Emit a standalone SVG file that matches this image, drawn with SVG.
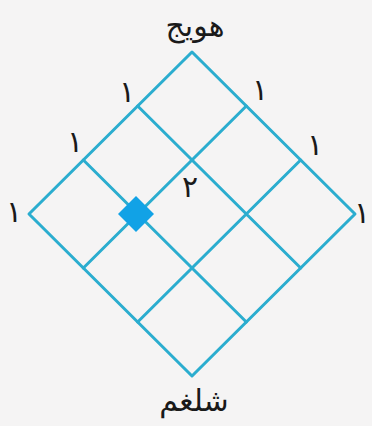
<svg xmlns="http://www.w3.org/2000/svg" width="372" height="426" viewBox="0 0 372 426">
<style>
.g{fill:none;stroke:#2badcf;stroke-width:3;stroke-linecap:round;stroke-linejoin:round}
.t{font-family:"DejaVu Sans","Noto Sans",sans-serif;fill:#1a1a1a;text-anchor:middle}
.n{font-size:30px}
.w{font-size:30px}
</style>
<rect width="372" height="426" fill="#f5f4f4"/>
<g id="connectors">
<path class="g" d="M192 52 L355 214 L192 376 L29 214 Z"/>
<path class="g" d="M137.67 106 L300.67 268 M83.33 160 L246.33 322 M246.33 106 L83.33 268 M300.67 160 L137.67 322"/>
</g>
<g id="marker-point"><path d="M136 196 L154 214 L136 232 L118 214 Z" fill="#11a2e6"/></g>
<g id="label-top"><text class="t w" x="195" y="36">هویج</text></g>
<g id="label-bottom"><text class="t w" x="194" y="411">شلغم</text></g>
<g id="nums">
<text class="t n" x="127" y="102">۱</text>
<text class="t n" x="75" y="152">۱</text>
<text class="t n" x="14" y="222">۱</text>
<text class="t n" x="260" y="100">۱</text>
<text class="t n" x="315" y="155">۱</text>
<text class="t n" x="362" y="223">۱</text>
<text class="t n" x="190" y="197">۲</text>
</g>
</svg>
